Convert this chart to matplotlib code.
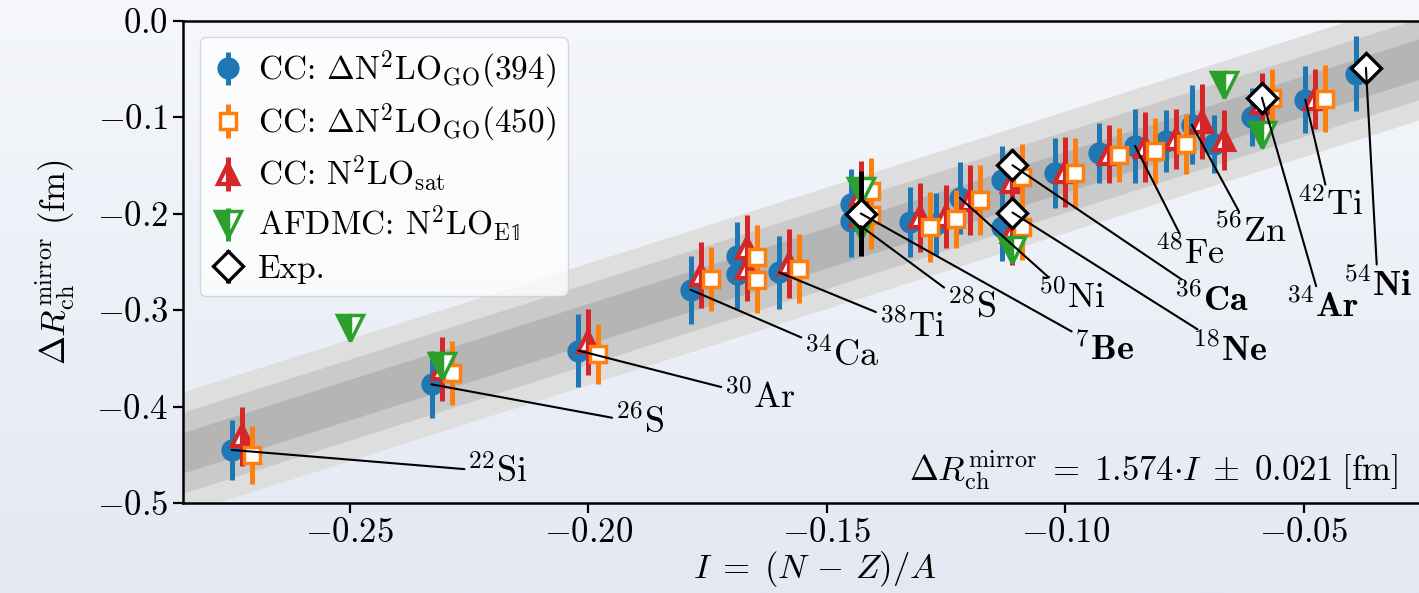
import numpy as np
import matplotlib
matplotlib.use("Agg")
import matplotlib.pyplot as plt
from matplotlib.colors import LinearSegmentedColormap

plt.rcParams["font.family"] = "serif"
plt.rcParams["font.serif"] = ["cmr10"]
plt.rcParams["mathtext.fontset"] = "cm"
plt.rcParams["axes.formatter.use_mathtext"] = True
plt.rcParams["font.size"] = 25

# isospin asymmetry I = (N - Z)/A of the proton-rich member of each mirror pair
cc_I = np.array([-0.2727, -0.2308, -0.2000, -0.1765, -0.1667, -0.1667, -0.1579,
                 -0.1429, -0.1429, -0.1304, -0.1250, -0.1200, -0.1111, -0.1111,
                 -0.1000, -0.0909, -0.0833, -0.0769, -0.0714, -0.0667, -0.0588,
                 -0.0476, -0.0370])

# coupled-cluster mirror differences (fm)
go394 = np.array([-0.445, -0.377, -0.342, -0.279, -0.244, -0.263, -0.261,
                  -0.190, -0.208, -0.209, -0.211, -0.184, -0.165, -0.214,
                  -0.158, -0.137, -0.130, -0.125, -0.108, -0.128, -0.100,
                  -0.082, -0.055])
go394_err = np.array([0.031, 0.035, 0.038, 0.035, 0.035, 0.036, 0.038,
                      0.036, 0.037, 0.036, 0.032, 0.037, 0.035, 0.035,
                      0.036, 0.031, 0.038, 0.032, 0.041, 0.030, 0.030,
                      0.035, 0.039])

go450 = np.array([-0.450, -0.365, -0.346, -0.268, -0.245, -0.269, -0.257,
                  -0.177, -0.202, -0.214, -0.206, -0.186, -0.162, -0.214,
                  -0.158, -0.139, -0.135, -0.128, np.nan, np.nan, -0.080,
                  -0.081, np.nan])
go450_err = np.array([0.030, 0.033, 0.031, 0.033, 0.033, 0.034, 0.036,
                      0.034, 0.035, 0.036, 0.030, 0.036, 0.034, 0.034,
                      0.036, 0.028, 0.034, 0.031, 0.0, 0.0, 0.030,
                      0.035, 0.0])

sat = np.array([-0.431, -0.361, -0.333, -0.264, -0.236, -0.256, -0.252,
                -0.181, -0.203, -0.204, -0.203, -0.186, -0.167, -0.219,
                -0.157, -0.138, -0.131, -0.123, -0.105, -0.124, -0.085,
                -0.081, np.nan])
sat_err = np.array([0.031, 0.033, 0.034, 0.034, 0.034, 0.035, 0.036,
                    0.035, 0.035, 0.036, 0.033, 0.036, 0.034, 0.034,
                    0.036, 0.030, 0.036, 0.031, 0.039, 0.031, 0.031,
                    0.031, 0.0])

# AFDMC results
afdmc_I = np.array([-0.2500, -0.2308, -0.1429, -0.1429, -0.1111, -0.0667, -0.0588])
afdmc = np.array([-0.319, -0.358, -0.177, -0.213, -0.238, -0.067, -0.119])
afdmc_err = np.array([0.006, 0.006, 0.006, 0.006, 0.008, 0.006, 0.006])

# experiment: 7Be, 18Ne, 36Ca, 34Ar, 54Ni
exp_I = np.array([-0.1429, -0.1111, -0.1111, -0.0588, -0.0370])
exp = np.array([-0.200, -0.199, -0.150, -0.080, -0.049])
exp_err = np.array([0.044, 0.008, 0.008, 0.008, 0.008])

# linear fit of the mirror difference
slope = 1.574
sigma = 0.021

# nuclei names, which point each name is attached to, and where the name sits
label_text = [r"$^{22}\mathrm{Si}$", r"$^{26}\mathrm{S}$", r"$^{30}\mathrm{Ar}$",
              r"$^{34}\mathrm{Ca}$", r"$^{38}\mathrm{Ti}$", r"$^{28}\mathrm{S}$",
              r"$^{\mathbf{7}}\mathbf{Be}$", r"$^{50}\mathrm{Ni}$",
              r"$^{\mathbf{18}}\mathbf{Ne}$", r"$^{\mathbf{36}}\mathbf{Ca}$",
              r"$^{48}\mathrm{Fe}$", r"$^{56}\mathrm{Zn}$",
              r"$^{\mathbf{34}}\mathbf{Ar}$", r"$^{42}\mathrm{Ti}$",
              r"$^{\mathbf{54}}\mathbf{Ni}$"]
label_src = [("cc", 0), ("cc", 1), ("cc", 2), ("cc", 3), ("cc", 6), ("afdmc", 3),
             ("exp", 0), ("cc", 11), ("exp", 1), ("exp", 2), ("cc", 16),
             ("cc", 18), ("exp", 3), ("cc", 21), ("exp", 4)]
label_x = [-0.2191, -0.1893, -0.1641, -0.1469, -0.1322, -0.1197, -0.0918,
           -0.0987, -0.0655, -0.0693, -0.0739, -0.0613, -0.0462, -0.0445, -0.0345]
label_y = [-0.4677, -0.4169, -0.3900, -0.3465, -0.3174, -0.2977, -0.3413,
           -0.2874, -0.3413, -0.2895, -0.2418, -0.2190, -0.2965, -0.1910, -0.2741]

dx = 0.0021

fig = plt.figure(figsize=(14.19, 5.93), dpi=100)

# soft vertical gradient behind everything
bg = fig.add_axes([0, 0, 1, 1], zorder=-10)
bg_cmap = LinearSegmentedColormap.from_list("bg", ["#f5f7fb", "#e3e8f3"])
bg.imshow(np.linspace(0, 1, 256)[:, None], aspect="auto", cmap=bg_cmap,
          extent=[0, 1, 0, 1])
bg.axis("off")

ax = fig.add_axes([183 / 1419, 1 - 503 / 593, 1264 / 1419, 482.5 / 593])
ax.set_facecolor("none")
ax.set_xlim(-0.285, -0.02)
ax.set_ylim(-0.5, 0.0)

xb = np.array([-0.3, 0.0])
for k, c in zip([3, 2, 1], ["#dedede", "#cacaca", "#b5b5b5"]):
    ax.fill_between(xb, slope * xb - k * sigma, slope * xb + k * sigma,
                    color=c, lw=0, zorder=0)

bar = dict(elinewidth=3.6, capsize=0, ls="none")
h_blue = ax.errorbar(cc_I - dx, go394, yerr=go394_err, fmt="o", color="tab:blue",
                     ms=15, zorder=3, **bar)
h_red = ax.errorbar(cc_I, sat, yerr=sat_err, fmt="^", color="tab:red", ms=14,
                    fillstyle="right", markerfacecoloralt="white", mew=3,
                    zorder=4, **bar)
h_orange = ax.errorbar(cc_I + dx, go450, yerr=go450_err, fmt="s",
                       color="tab:orange", mfc="white", ms=12, mew=2.5,
                       zorder=5, **bar)
h_green = ax.errorbar(afdmc_I, afdmc, yerr=afdmc_err, fmt="v", color="tab:green",
                      ms=19, fillstyle="left", markerfacecoloralt="white", mew=2.5,
                      zorder=6, **bar)
h_exp = ax.errorbar(exp_I, exp, yerr=exp_err, fmt="D", color="black", mfc="white",
                    ms=15, mew=2.4, zorder=7, **bar)

src = {"cc": (cc_I - dx, go394), "afdmc": (afdmc_I, afdmc), "exp": (exp_I, exp)}
for txt, (key, i), tx, ty in zip(label_text, label_src, label_x, label_y):
    xs, ys = src[key]
    ax.annotate(txt, xy=(xs[i], ys[i]), xytext=(tx, ty), ha="center", va="center",
                fontsize=26, zorder=9,
                arrowprops=dict(arrowstyle="-", color="black", lw=1.5,
                                shrinkA=0, shrinkB=0))

ax.text(-0.0303, -0.466,
        r"$\Delta R_\mathrm{ch}^\mathrm{mirror}\;=\;1.574{\cdot}I\;\pm\;0.021\;\mathrm{[fm]}$",
        ha="right", va="center", fontsize=25, zorder=9)

leg = ax.legend([h_blue, h_orange, h_red, h_green, h_exp],
                [r"CC: $\Delta\mathrm{N}^2\mathrm{LO}_\mathrm{GO}(394)$",
                 r"CC: $\Delta\mathrm{N}^2\mathrm{LO}_\mathrm{GO}(450)$",
                 r"CC: $\mathrm{N}^2\mathrm{LO}_\mathrm{sat}$",
                 r"AFDMC: $\mathrm{N}^2\mathrm{LO}_{\mathrm{E}\mathbb{1}}$",
                 "Exp."],
                loc="upper left", fontsize=24, framealpha=0.75, edgecolor="#cccccc",
                borderpad=0.35, labelspacing=0.28, handletextpad=0.4,
                handlelength=1.0, borderaxespad=0.5)
leg.set_zorder(10)

ax.set_xticks([-0.25, -0.20, -0.15, -0.10, -0.05])
ax.set_yticks([0.0, -0.1, -0.2, -0.3, -0.4, -0.5])
ax.tick_params(direction="out", length=7, width=1.6, labelsize=25)
for s in ["left", "bottom", "top"]:
    ax.spines[s].set_linewidth(1.8)
ax.spines["right"].set_visible(False)

ax.set_xlabel(r"$I\;=\;(N\,-\,Z)/A$", fontsize=25, labelpad=0)
ax.set_ylabel(r"$\Delta R_\mathrm{ch}^\mathrm{mirror}$ (fm)", fontsize=25,
              labelpad=14)

fig.savefig("out.png", dpi=100)
